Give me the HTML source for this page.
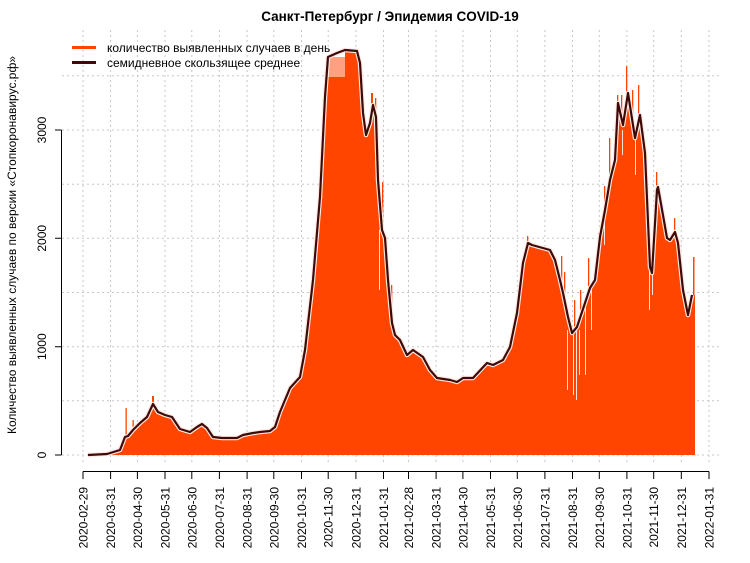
<!DOCTYPE html>
<html><head><meta charset="utf-8"><style>
html,body{margin:0;padding:0;background:#fff;}
svg{display:block;font-family:"Liberation Sans",sans-serif;}
</style></head><body>
<svg width="750" height="563" viewBox="0 0 750 563" xmlns="http://www.w3.org/2000/svg">
<rect width="750" height="563" fill="#fff"/>
<text x="390" y="21" font-size="13.5" font-weight="bold" text-anchor="middle" fill="#000">Санкт-Петербург / Эпидемия COVID-19</text>
<g stroke="#c8c8c8" stroke-width="1" stroke-dasharray="2,3" fill="none">
<path d="M62 455H720M62 400.8H720M62 346.7H720M62 292.5H720M62 238.3H720M62 184.2H720M62 130H720M62 75.8H720"/>
<path d="M83 30V463M110.6 30V463M137.4 30V463M165 30V463M191.8 30V463M219.4 30V463M247.1 30V463M273.8 30V463M301.5 30V463M328.2 30V463M355.9 30V463M383.5 30V463M408.5 30V463M436.1 30V463M462.9 30V463M490.5 30V463M517.3 30V463M544.9 30V463M572.5 30V463M599.3 30V463M626.9 30V463M653.7 30V463M681.3 30V463M709 30V463"/>
</g>
<path fill="#ff4500" d="M88 455 L107 454 L120 450 L125 437 L128 436 L133 430 L140 423 L147 417 L153 404 L158 412 L165 415 L172 417 L180 429 L190 432 L197 427 L202 424 L207 428 L213 437 L222 438 L237 438 L243 435 L253 433 L260 432 L270 431 L275 427 L280 412 L290 388 L300 377 L305 350 L313 280 L320 197 L325 97 L328 77 L345 77 L345 50 L357 51 L360 63 L363 113 L366 135 L370 123 L373 105 L376 117 L378 180 L382 230 L385 238 L388 280 L392 323 L395 335 L400 340 L407 355 L413 350 L423 357 L430 370 L437 378 L450 380 L457 382 L463 378 L473 378 L487 363 L493 365 L503 360 L510 347 L517 313 L523 263 L528 243 L532 245 L550 250 L555 260 L560 280 L563 293 L568 317 L572 333 L577 327 L585 303 L590 288 L595 280 L600 237 L605 210 L610 180 L615 160 L618 103 L623 125 L628 93 L635 138 L640 115 L645 153 L650 267 L652 273 L657 190 L658 187 L667 238 L670 240 L675 232 L678 243 L683 290 L688 315 L692 295 L695 295 L695 455 Z"/>
<rect x="328" y="57" width="17" height="20" fill="#ffa080"/>
<g fill="#ff4500">
<rect x="125.5" y="408" width="1.3" height="30"/><rect x="132.5" y="420" width="1.3" height="12"/><rect x="152" y="396" width="2" height="10"/>
<rect x="371" y="93" width="2" height="15"/><rect x="375" y="98" width="1.3" height="20"/><rect x="382" y="182" width="1.3" height="50"/><rect x="391" y="285" width="1.3" height="40"/>
<rect x="527" y="236" width="1.3" height="8"/><rect x="561" y="256" width="1.3" height="30"/><rect x="564" y="272" width="1.3" height="25"/><rect x="574" y="300" width="1.3" height="30"/><rect x="580" y="290" width="1.3" height="35"/>
<rect x="588" y="258" width="1.3" height="35"/><rect x="598" y="233" width="1.3" height="10"/><rect x="604" y="186" width="1.3" height="25"/><rect x="609" y="138" width="1.3" height="45"/>
<rect x="617" y="95" width="1.3" height="15"/><rect x="621" y="95" width="1.3" height="30"/><rect x="626" y="66" width="1.3" height="30"/><rect x="632" y="90" width="1.3" height="45"/><rect x="638" y="85" width="1.3" height="35"/>
<rect x="656" y="172" width="1.3" height="20"/><rect x="674" y="218" width="1.3" height="18"/><rect x="693" y="257" width="1.5" height="40"/>
</g>
<g fill="#ffffff" opacity="0.85">
<rect x="379" y="230" width="1" height="60"/><rect x="567" y="330" width="1" height="60"/><rect x="573" y="335" width="1" height="60"/><rect x="576" y="330" width="1" height="70"/>
<rect x="579" y="330" width="1" height="45"/><rect x="585" y="305" width="1" height="70"/><rect x="591" y="290" width="1" height="40"/><rect x="604" y="215" width="1" height="30"/>
<rect x="622" y="130" width="1" height="25"/><rect x="635" y="140" width="1" height="35"/><rect x="649" y="270" width="1" height="40"/><rect x="652" y="275" width="1" height="20"/>
</g>
<polyline fill="none" stroke="#ffe8e0" stroke-width="4.5" stroke-linejoin="round" points="88,455 107,454 120,450 125,437 128,436 133,430 140,423 147,417 153,404 158,412 165,415 172,417 180,429 190,432 197,427 202,424 207,428 213,437 222,438 237,438 243,435 253,433 260,432 270,431 275,427 280,412 290,388 300,377 305,350 313,280 320,197 325,97 328,57 337,53 345,50 357,51 360,63 363,113 366,135 370,123 373,105 376,117 378,180 382,230 385,238 388,280 392,323 395,335 400,340 407,355 413,350 423,357 430,370 437,378 450,380 457,382 463,378 473,378 487,363 493,365 503,360 510,347 517,313 523,263 528,243 532,245 550,250 555,260 560,280 563,293 568,317 572,333 577,327 585,303 590,288 595,280 600,237 605,210 610,180 615,160 618,103 623,125 628,93 635,138 640,115 645,153 650,267 652,273 657,190 658,187 667,238 670,240 675,232 678,243 683,290 688,315 692,295"/>
<polyline fill="none" stroke="#3d0a0a" stroke-width="2.2" stroke-linejoin="round" points="88,455 107,454 120,450 125,437 128,436 133,430 140,423 147,417 153,404 158,412 165,415 172,417 180,429 190,432 197,427 202,424 207,428 213,437 222,438 237,438 243,435 253,433 260,432 270,431 275,427 280,412 290,388 300,377 305,350 313,280 320,197 325,97 328,57 337,53 345,50 357,51 360,63 363,113 366,135 370,123 373,105 376,117 378,180 382,230 385,238 388,280 392,323 395,335 400,340 407,355 413,350 423,357 430,370 437,378 450,380 457,382 463,378 473,378 487,363 493,365 503,360 510,347 517,313 523,263 528,243 532,245 550,250 555,260 560,280 563,293 568,317 572,333 577,327 585,303 590,288 595,280 600,237 605,210 610,180 615,160 618,103 623,125 628,93 635,138 640,115 645,153 650,267 652,273 657,190 658,187 667,238 670,240 675,232 678,243 683,290 688,315 692,295"/>
<g stroke="#000" stroke-width="1" fill="none">
<path d="M61.5 455V130M61.5 455H55M61.5 346.7H55M61.5 238.3H55M61.5 130H55"/>
<path d="M83 471.5H709M83 471.5V479M110.6 471.5V479M137.4 471.5V479M165 471.5V479M191.8 471.5V479M219.4 471.5V479M247.1 471.5V479M273.8 471.5V479M301.5 471.5V479M328.2 471.5V479M355.9 471.5V479M383.5 471.5V479M408.5 471.5V479M436.1 471.5V479M462.9 471.5V479M490.5 471.5V479M517.3 471.5V479M544.9 471.5V479M572.5 471.5V479M599.3 471.5V479M626.9 471.5V479M653.7 471.5V479M681.3 471.5V479M709 471.5V479"/>
</g>
<g font-size="12" fill="#000" text-anchor="middle">
<text transform="translate(46,455) rotate(-90)">0</text>
<text transform="translate(46,346.7) rotate(-90)">1000</text>
<text transform="translate(46,238.3) rotate(-90)">2000</text>
<text transform="translate(46,130) rotate(-90)">3000</text>
</g>
<text transform="translate(16,245) rotate(-90)" font-size="12" text-anchor="middle" fill="#000">Количество выявленных случаев по версии «Стопкоронавирус.рф»</text>
<g font-size="12" fill="#000" text-anchor="end">
<text transform="translate(87.5,487) rotate(-90)">2020-02-29</text>
<text transform="translate(115.1,487) rotate(-90)">2020-03-31</text>
<text transform="translate(141.9,487) rotate(-90)">2020-04-30</text>
<text transform="translate(169.5,487) rotate(-90)">2020-05-31</text>
<text transform="translate(196.3,487) rotate(-90)">2020-06-30</text>
<text transform="translate(223.9,487) rotate(-90)">2020-07-31</text>
<text transform="translate(251.6,487) rotate(-90)">2020-08-31</text>
<text transform="translate(278.3,487) rotate(-90)">2020-09-30</text>
<text transform="translate(306,487) rotate(-90)">2020-10-31</text>
<text transform="translate(332.7,487) rotate(-90)">2020-11-30</text>
<text transform="translate(360.4,487) rotate(-90)">2020-12-31</text>
<text transform="translate(388,487) rotate(-90)">2021-01-31</text>
<text transform="translate(413,487) rotate(-90)">2021-02-28</text>
<text transform="translate(440.6,487) rotate(-90)">2021-03-31</text>
<text transform="translate(467.4,487) rotate(-90)">2021-04-30</text>
<text transform="translate(495,487) rotate(-90)">2021-05-31</text>
<text transform="translate(521.8,487) rotate(-90)">2021-06-30</text>
<text transform="translate(549.4,487) rotate(-90)">2021-07-31</text>
<text transform="translate(577,487) rotate(-90)">2021-08-31</text>
<text transform="translate(603.8,487) rotate(-90)">2021-09-30</text>
<text transform="translate(631.4,487) rotate(-90)">2021-10-31</text>
<text transform="translate(658.2,487) rotate(-90)">2021-11-30</text>
<text transform="translate(685.8,487) rotate(-90)">2021-12-31</text>
<text transform="translate(713.5,487) rotate(-90)">2022-01-31</text>
</g>
<line x1="72" y1="47.5" x2="96" y2="47.5" stroke="#ff4500" stroke-width="3"/>
<line x1="72" y1="62.5" x2="96" y2="62.5" stroke="#3d0a0a" stroke-width="3"/>
<text x="107" y="52" font-size="12" fill="#000">количество выявленных случаев в день</text>
<text x="107" y="67" font-size="12" fill="#000">семидневное скользящее среднее</text>
</svg>
</body></html>
